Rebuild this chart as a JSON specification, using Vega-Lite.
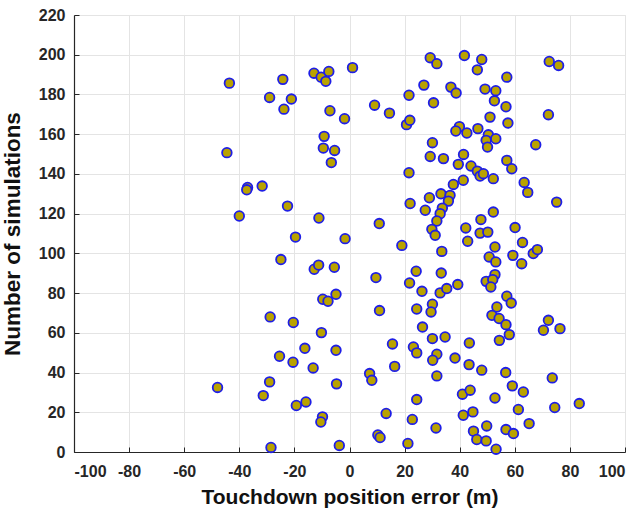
{
  "$schema": "https://vega.github.io/schema/vega-lite/v6.json",
  "width": 551,
  "height": 437,
  "autosize": {"type": "none"},
  "padding": {"left": 74, "top": 15, "right": 15, "bottom": 58},
  "background": "white",
  "config": {
    "view": {"stroke": "#e4e4e4"},
    "axis": {
      "labelFont": "Liberation Sans",
      "labelFontWeight": "bold",
      "labelFontSize": 16,
      "labelColor": "#262626",
      "titleFont": "Liberation Sans",
      "titleFontWeight": "bold",
      "titleColor": "#111111",
      "domainColor": "#262626",
      "domainWidth": 1.2,
      "tickColor": "#262626",
      "tickSize": -5,
      "gridColor": "#e4e4e4",
      "gridWidth": 1
    }
  },
  "data": {
    "values": [
      {"x": -43.6, "y": 185.7}, {"x": -24.2, "y": 187.6}, {"x": -12.9, "y": 190.7}, {"x": -10.3, "y": 188.7},
      {"x": -7.5, "y": 191.6}, {"x": -8.6, "y": 186.6}, {"x": 1.1, "y": 193.5}, {"x": -29, "y": 178.5},
      {"x": -21.1, "y": 177.7}, {"x": -23.8, "y": 172.6}, {"x": -7.1, "y": 171.8}, {"x": -1.8, "y": 167.8},
      {"x": 9.1, "y": 174.6}, {"x": 14.5, "y": 170.6}, {"x": 21.6, "y": 179.6}, {"x": 20.7, "y": 164.8},
      {"x": 21.9, "y": 167}, {"x": -44.5, "y": 150.7}, {"x": -9.2, "y": 158.9}, {"x": -9.5, "y": 153},
      {"x": -5.4, "y": 151.8}, {"x": -6.6, "y": 145.7}, {"x": 21.6, "y": 140.6}, {"x": -37, "y": 133.2},
      {"x": -37.3, "y": 132}, {"x": -31.7, "y": 133.9}, {"x": -40, "y": 118.8}, {"x": -22.5, "y": 123.8},
      {"x": -11.1, "y": 117.8}, {"x": 10.8, "y": 115}, {"x": 22, "y": 125.1}, {"x": -19.6, "y": 108.2},
      {"x": -1.6, "y": 107.4}, {"x": 19, "y": 104}, {"x": -24.9, "y": 96.9}, {"x": -12.8, "y": 92},
      {"x": -11.2, "y": 94.1}, {"x": -5.5, "y": 93}, {"x": 9.6, "y": 87.8}, {"x": 21.8, "y": 85.1},
      {"x": -9.7, "y": 76.9}, {"x": -7.8, "y": 75.9}, {"x": -4.9, "y": 79.4}, {"x": 10.9, "y": 71.2},
      {"x": -28.8, "y": 68}, {"x": -20.4, "y": 65.2}, {"x": -10.2, "y": 60.1}, {"x": 15.6, "y": 54.4},
      {"x": -16.2, "y": 52.2}, {"x": -4.9, "y": 51.2}, {"x": -25.4, "y": 48.2}, {"x": -20.5, "y": 45.2},
      {"x": -13.2, "y": 42.3}, {"x": 16.4, "y": 43.1}, {"x": 7.3, "y": 39.5}, {"x": 8.1, "y": 36.1},
      {"x": -47.9, "y": 32.5}, {"x": -29, "y": 35.3}, {"x": -31.3, "y": 28.4}, {"x": -4.7, "y": 34.3},
      {"x": -19.3, "y": 23.4}, {"x": -15.8, "y": 25.2}, {"x": -9.8, "y": 17.7}, {"x": -10.4, "y": 15.1},
      {"x": 13.3, "y": 19.4}, {"x": 22.8, "y": 16.4}, {"x": 10.3, "y": 8.6}, {"x": 11.1, "y": 7.3},
      {"x": 21.2, "y": 4.3}, {"x": -28.5, "y": 2.3}, {"x": -3.7, "y": 3.3},
      {"x": 29.3, "y": 198.5}, {"x": 31.7, "y": 195.5}, {"x": 41.7, "y": 199.6}, {"x": 48, "y": 197.6},
      {"x": 46.4, "y": 192.4}, {"x": 72.5, "y": 196.6}, {"x": 75.9, "y": 194.6}, {"x": 57.1, "y": 188.7},
      {"x": 27, "y": 184.7}, {"x": 36.8, "y": 183.7}, {"x": 38.7, "y": 180.7}, {"x": 49.2, "y": 182.7},
      {"x": 53.1, "y": 181.9}, {"x": 52.6, "y": 176.8}, {"x": 30.5, "y": 175.8}, {"x": 56.8, "y": 173.8},
      {"x": 51, "y": 168.6}, {"x": 57.5, "y": 165.6}, {"x": 72.2, "y": 169.8}, {"x": 39.9, "y": 163.8},
      {"x": 38.6, "y": 161.6}, {"x": 42.6, "y": 160.6}, {"x": 46.6, "y": 162.8}, {"x": 50.4, "y": 159.7},
      {"x": 49.6, "y": 156.9}, {"x": 50.1, "y": 153.5}, {"x": 53.1, "y": 157.7}, {"x": 30.1, "y": 155.7},
      {"x": 29.3, "y": 148.8}, {"x": 34.1, "y": 147.7}, {"x": 41.4, "y": 149.8}, {"x": 39.5, "y": 144.8},
      {"x": 44.1, "y": 144}, {"x": 46.4, "y": 141.4}, {"x": 47.4, "y": 138.9}, {"x": 48.6, "y": 140.1},
      {"x": 52.2, "y": 137.6}, {"x": 57.1, "y": 146.8}, {"x": 58.9, "y": 142.6}, {"x": 67.6, "y": 154.7},
      {"x": 63.4, "y": 135.7}, {"x": 64.7, "y": 130.7}, {"x": 41.3, "y": 136.8}, {"x": 37.7, "y": 134.7},
      {"x": 33.2, "y": 130}, {"x": 36.5, "y": 129.2}, {"x": 35.9, "y": 126.3}, {"x": 29, "y": 128},
      {"x": 27.5, "y": 121.7}, {"x": 33.7, "y": 122.8}, {"x": 32.9, "y": 120}, {"x": 31.7, "y": 116.3},
      {"x": 29.9, "y": 112.1}, {"x": 31.1, "y": 109.1}, {"x": 75.2, "y": 125.8}, {"x": 52.2, "y": 120.8},
      {"x": 47.7, "y": 117}, {"x": 42.2, "y": 112.8}, {"x": 47.4, "y": 110.2}, {"x": 50.2, "y": 110.7},
      {"x": 60.1, "y": 113}, {"x": 42.9, "y": 106.1}, {"x": 33.5, "y": 101}, {"x": 52.8, "y": 103.2},
      {"x": 50.7, "y": 98.2}, {"x": 53.1, "y": 95.7}, {"x": 62.8, "y": 105.5}, {"x": 59.3, "y": 99},
      {"x": 62.5, "y": 94.8}, {"x": 66.7, "y": 99.9}, {"x": 68.2, "y": 101.9}, {"x": 24.2, "y": 91},
      {"x": 33.3, "y": 90.1}, {"x": 26.3, "y": 80.9}, {"x": 32.9, "y": 80.1}, {"x": 35.3, "y": 82.3},
      {"x": 39.3, "y": 84.3}, {"x": 49.6, "y": 85.9}, {"x": 52.8, "y": 89.3}, {"x": 52, "y": 86.8},
      {"x": 51.3, "y": 83.1}, {"x": 24.4, "y": 72}, {"x": 30.1, "y": 74.4}, {"x": 29.6, "y": 70.5},
      {"x": 26.5, "y": 62.9}, {"x": 30.1, "y": 57.1}, {"x": 34.7, "y": 57.9}, {"x": 57.1, "y": 78.4},
      {"x": 58.7, "y": 75}, {"x": 53.5, "y": 73}, {"x": 51.7, "y": 68.8}, {"x": 54.3, "y": 67.2},
      {"x": 56.8, "y": 64.1}, {"x": 58, "y": 59.1}, {"x": 54.4, "y": 56.2}, {"x": 72.2, "y": 66.3},
      {"x": 70.4, "y": 61.3}, {"x": 76.4, "y": 62.1}, {"x": 43.5, "y": 54.9}, {"x": 23.2, "y": 52.9},
      {"x": 24.4, "y": 49.9}, {"x": 31.7, "y": 49.2}, {"x": 30.2, "y": 46.2}, {"x": 38.3, "y": 47.3},
      {"x": 43.4, "y": 44}, {"x": 48, "y": 41.2}, {"x": 31.7, "y": 38.3}, {"x": 56.7, "y": 40},
      {"x": 73.6, "y": 37.3}, {"x": 59.1, "y": 33.3}, {"x": 63.1, "y": 30.2}, {"x": 41, "y": 29.1},
      {"x": 43.8, "y": 31.1}, {"x": 52.8, "y": 27.2}, {"x": 24.4, "y": 26.4}, {"x": 74.5, "y": 22.4},
      {"x": 83.4, "y": 24.4}, {"x": 41.3, "y": 18.5}, {"x": 44.8, "y": 20.2}, {"x": 61.3, "y": 21.4},
      {"x": 31.4, "y": 12.1}, {"x": 49.8, "y": 13.1}, {"x": 65.2, "y": 14.3}, {"x": 56.8, "y": 11.3},
      {"x": 59.5, "y": 9.3}, {"x": 45, "y": 10.5}, {"x": 46.2, "y": 6.3}, {"x": 49.6, "y": 5.6},
      {"x": 53.2, "y": 1.4}
    ]
  },
  "mark": {"type": "circle", "fill": "#B9A200", "stroke": "#1E1EE6", "strokeWidth": 1.8, "size": 92, "opacity": 1, "fillOpacity": 1},
  "encoding": {
    "x": {
      "field": "x", "type": "quantitative",
      "scale": {"domain": [-100, 100], "nice": false},
      "axis": {"values": [-100, -80, -60, -40, -20, 0, 20, 40, 60, 80, 100], "labelExpr": "replace(datum.label, '\u2212', '-')", "title": "Touchdown position error (m)", "titleFontSize": 21, "labelPadding": 16, "titlePadding": 7}
    },
    "y": {
      "field": "y", "type": "quantitative",
      "scale": {"domain": [0, 220], "nice": false},
      "axis": {"values": [0, 20, 40, 60, 80, 100, 120, 140, 160, 180, 200, 220], "title": "Number of simulations", "titleFontSize": 22.5, "labelPadding": 14, "titlePadding": 14}
    }
  }
}
